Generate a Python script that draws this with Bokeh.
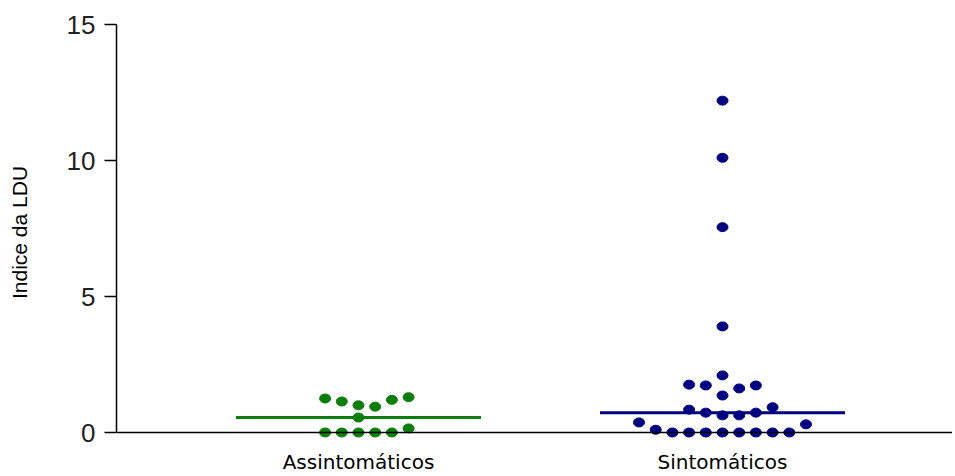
import numpy as np
from bokeh.plotting import figure
from bokeh.models import Range1d, FixedTicker, Span, ColumnDataSource
from bokeh.embed import file_html
from bokeh.resources import INLINE

# ---- data ----
categories = ["Assintomáticos", "Sintomáticos"]
assintomaticos = [0, 0, 0, 0, 0, 0.15, 0.55, 0.95, 1.0, 1.14, 1.2, 1.25, 1.3]
sintomaticos = [0, 0, 0, 0, 0, 0, 0, 0, 0.1, 0.3, 0.37, 0.63, 0.63, 0.73, 0.73,
                0.84, 0.93, 1.36, 1.62, 1.73, 1.73, 1.76, 2.1, 3.9, 7.55, 10.1, 12.2]
y_ticks = [0, 5, 10, 15]
colors = ["#0b7d0b", "#000080"]

# ---- layout constants ----
W, H = 952, 476
LEFT, RIGHT, TOP, BOTTOM = 116, 0, 24, 36
frame_w = W - LEFT - RIGHT
frame_h = H - TOP - BOTTOM
Y1 = 15
y_px = 408 / 15.0                 # pixels per unit (0 at 432, 15 at 24)
Y0 = Y1 - frame_h / y_px
x_px = 364.0                      # pixels per category step
x0 = 1 - 242 / x_px
x1 = x0 + frame_w / x_px
slot_w = 16.7 / x_px              # horizontal spacing of dots
half_line = 122.5 / x_px          # half width of median line


def swarm_slots(vals, thr=11.0):
    """Greedy column beeswarm: slots 0, +1, -1, +2, -2, ..."""
    vals = np.asarray(vals, float)
    placed = {}
    slots = np.zeros(len(vals), int)
    for i in np.argsort(vals, kind="stable"):
        ypix = vals[i] * y_px
        k = 0
        while True:
            s = ((k + 1) // 2) * (1 if k % 2 == 1 else -1)
            if all(abs(ypix - q) >= thr for q in placed.get(s, [])):
                break
            k += 1
        placed.setdefault(s, []).append(ypix)
        slots[i] = s
    return slots


p = figure(width=W, height=H, x_range=Range1d(x0, x1), y_range=Range1d(Y0, Y1),
           output_backend="svg", toolbar_location=None,
           min_border_left=LEFT, min_border_right=RIGHT,
           min_border_top=TOP, min_border_bottom=BOTTOM)
p.outline_line_color = None
p.xgrid.visible = False
p.ygrid.visible = False
p.background_fill_color = "white"

for i, (vals, col) in enumerate(zip([assintomaticos, sintomaticos], colors)):
    cx = i + 1
    med = float(np.median(vals))
    p.segment(x0=[cx - half_line], x1=[cx + half_line], y0=[med], y1=[med],
              line_color=col, line_width=3)
    slots = swarm_slots(vals)
    src = ColumnDataSource(dict(x=cx + slots * slot_w, y=vals))
    p.ellipse(x="x", y="y", width=11, height=9, width_units="screen",
              height_units="screen", source=src, fill_color=col, line_color=col)

p.add_layout(Span(location=0, dimension="width", line_color="black", line_width=1.5))

# y axis
ya = p.yaxis[0]
ya.ticker = FixedTicker(ticks=y_ticks)
ya.bounds = (0, 15)
ya.axis_label = "Indice da LDU"
ya.axis_label_text_font = "Liberation Sans"
ya.axis_label_text_font_size = "21px"
ya.axis_label_text_font_style = "normal"
ya.axis_label_text_color = "black"
ya.axis_label_standoff = 33
ya.major_label_text_font = "Liberation Sans"
ya.major_label_text_font_size = "26px"
ya.major_label_text_color = "#222222"
ya.major_label_standoff = 9
ya.major_tick_out = 12
ya.major_tick_in = 0
ya.minor_tick_out = 0
ya.minor_tick_in = 0
ya.axis_line_width = 1.5
ya.major_tick_line_width = 1.5
ya.axis_line_color = "black"
ya.major_tick_line_color = "black"

# x axis
xa = p.xaxis[0]
xa.ticker = FixedTicker(ticks=[1, 2])
xa.major_label_overrides = {1: categories[0], 2: categories[1]}
xa.axis_line_color = None
xa.major_tick_line_color = None
xa.minor_tick_line_color = None
xa.major_tick_out = 0
xa.major_tick_in = 0
xa.minor_tick_out = 0
xa.minor_tick_in = 0
xa.major_label_text_font = "DejaVu Sans"
xa.major_label_text_font_size = "20px"
xa.major_label_text_color = "black"
xa.major_label_standoff = 9

open("out.html", "w").write(file_html(p, INLINE))
